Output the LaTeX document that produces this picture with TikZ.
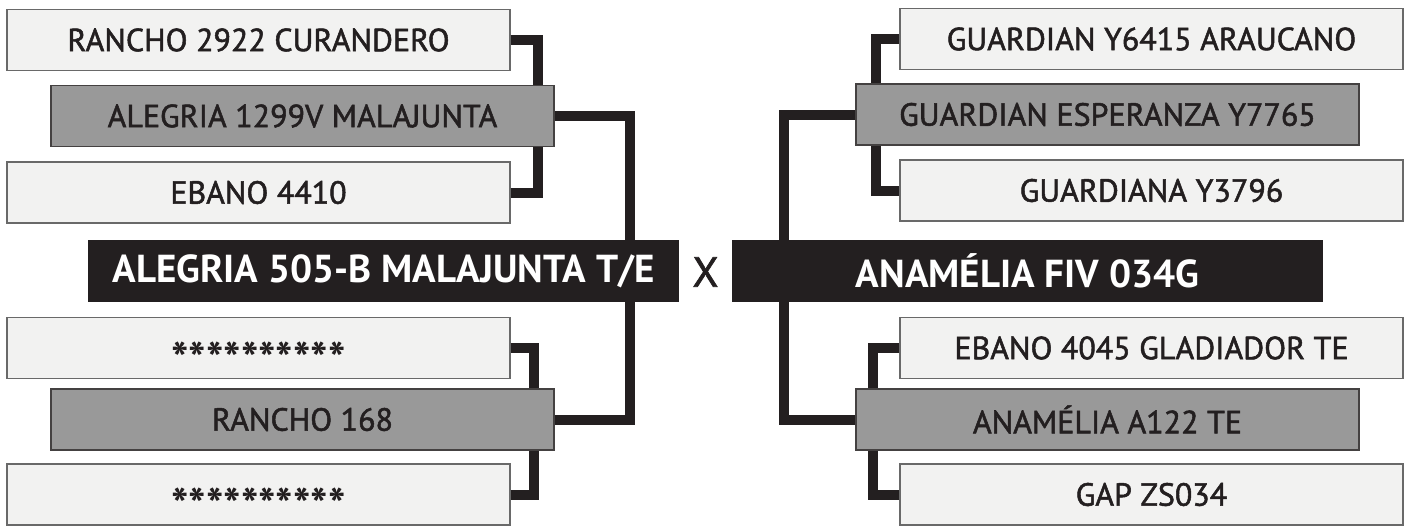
\documentclass[tikz,border=0pt]{standalone}
\usepackage{fontspec}
\setmainfont{PT Sans}
\newfontfamily\boxfont[FakeBold=1.6]{PT Sans}
\definecolor{boxLight}{RGB}{242,242,241}
\definecolor{boxGray}{RGB}{153,153,153}
\definecolor{boxDark}{RGB}{35,31,32}
\definecolor{edgeGray}{RGB}{105,105,105}

\begin{document}
\begin{tikzpicture}[x=0.5pt, y=-0.5pt,
    parent/.style={draw=edgeGray, line width=0.7pt, fill=boxLight, text=boxDark,
      minimum width=251.5pt, minimum height=30.5pt, inner sep=0pt,
      font=\boxfont\fontsize{16}{16}\selectfont},
    sire/.style={parent, fill=boxGray, draw=boxDark!85},
    unknown/.style={parent, text height=27pt, text depth=0pt,
      font=\fontsize{23}{23}\selectfont\bfseries},
    animal/.style={fill=boxDark, text=white, minimum width=295.5pt, minimum height=31pt,
      inner sep=0pt, font=\fontsize{19.5}{19.5}\selectfont\bfseries},
    link/.style={draw=boxDark, line width=5pt}]
    \useasboundingbox (0,0) rectangle (1410,526);

    % left pedigree
    \node[animal] (ml) at (383.5,271) {ALEGRIA 505-B MALAJUNTA T/E};
    \node[parent] (l1) at (258.5,40) {RANCHO 2922 CURANDERO};
    \node[sire] (l2) at (302.5,116) {ALEGRIA 1299V MALAJUNTA};
    \node[parent] (l3) at (258.5,192.5) {EBANO 4410};
    \node[unknown] (l4) at (258.5,348) {**********};
    \node[sire] (l5) at (302.5,419.5) {RANCHO 168};
    \node[unknown] (l6) at (258.5,494.5) {**********};

    % right pedigree
    \node[animal] (mr) at (1027.5,271) {ANAMÉLIA FIV 034G};
    \node[parent] (r1) at (1151.5,39) {GUARDIAN Y6415 ARAUCANO};
    \node[sire] (r2) at (1107.5,114.5) {GUARDIAN ESPERANZA Y7765};
    \node[parent] (r3) at (1151.5,190.5) {GUARDIANA Y3796};
    \node[parent] (r4) at (1151.5,348) {EBANO 4045 GLADIADOR TE};
    \node[sire] (r5) at (1107.5,419.5) {ANAMÉLIA A122 TE};
    \node[parent] (r6) at (1151.5,494.5) {GAP ZS034};

    \node[text=boxDark, font=\boxfont\fontsize{21}{21}\selectfont] (vs) at (705.5,272) {X};

    \draw[link] (l1.east) -| ([xshift=-8.5pt]l2.north east);
    \draw[link] (l3.east) -| ([xshift=-8.5pt]l2.south east);
    \draw[link] (l2.east) -| ([xshift=-24.5pt]ml.north east);
    \draw[link] (l4.east) -| ([xshift=-10.5pt]l5.north east);
    \draw[link] (l6.east) -| ([xshift=-10.5pt]l5.south east);
    \draw[link] (l5.east) -| ([xshift=-24.5pt]ml.south east);

    \draw[link] (r1.west) -| ([xshift=10.5pt]r2.north west);
    \draw[link] (r3.west) -| ([xshift=10.5pt]r2.south west);
    \draw[link] (r2.west) -| ([xshift=26pt]mr.north west);
    \draw[link] (r4.west) -| ([xshift=9pt]r5.north west);
    \draw[link] (r6.west) -| ([xshift=9pt]r5.south west);
    \draw[link] (r5.west) -| ([xshift=26pt]mr.south west);
\end{tikzpicture}
\end{document}
